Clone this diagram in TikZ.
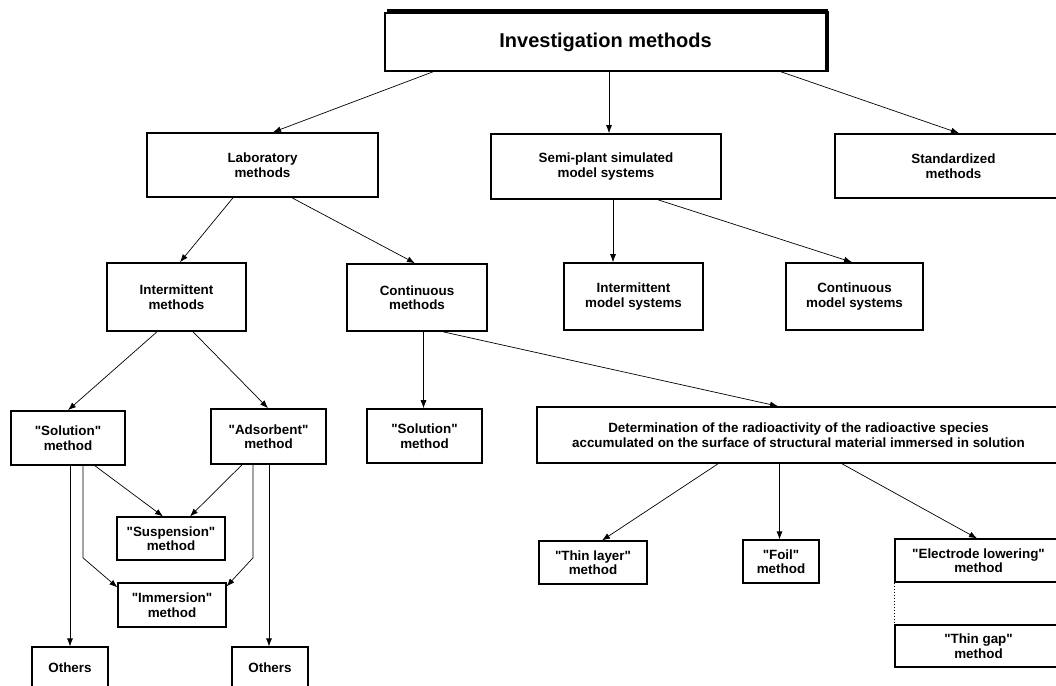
\documentclass[tikz,border=0pt]{standalone}
\usepackage{fontspec}
\setmainfont{Liberation Sans}
\usetikzlibrary{arrows.meta}
\newcommand{\qd}{\textquotedbl}
\begin{document}
\begin{tikzpicture}[x=1pt,y=-1pt,
  box/.style={draw, line width=1.6pt, align=center, inner sep=0pt,
    font=\bfseries\fontsize{13.4}{14.5}\selectfont},
  sbox/.style={box, line width=1.2pt},
  arr/.style={-{Latex[length=8pt,width=6pt]}, line width=0.7pt}]
\useasboundingbox (0,0) rectangle (1056,685);
\clip (0,0) rectangle (1056,685);
% level 0
\node[box, minimum width=441pt, minimum height=58pt,
  font=\bfseries\fontsize{20}{24}\selectfont] (top) at (605.5,42) {\raisebox{-3pt}{Investigation methods}};
\draw[line width=3.5pt] ([xshift=3pt,yshift=1.2pt]top.north west) -- ([xshift=1.5pt,yshift=1.2pt]top.north east);
\draw[line width=2.6pt] ([xshift=1pt,yshift=1pt]top.north east) -- ([xshift=1pt]top.south east);
% level 1
\node[box, minimum width=231pt, minimum height=64pt] (lab) at (262.5,165) {Laboratory\\methods};
\node[box, minimum width=230pt, minimum height=65pt] (semi) at (606,166.5) {Semi-plant simulated\\model systems};
\node[box, minimum width=237pt, minimum height=64pt] (std) at (953.5,166) {Standardized\\methods};
% level 2
\node[box, minimum width=139pt, minimum height=68pt] (intm) at (176.5,297) {Intermittent\\methods};
\node[box, minimum width=140pt, minimum height=67pt] (cont) at (417,297.5) {Continuous\\methods};
\node[box, minimum width=139pt, minimum height=67pt] (intmod) at (633.5,296.5) {Intermittent\\model systems};
\node[box, minimum width=137pt, minimum height=67pt] (contmod) at (854.5,296.5) {Continuous\\model systems};
% level 3
\node[box, minimum width=114pt, minimum height=54pt] (sol1) at (68,438) {\qd Solution\qd\\method};
\node[box, minimum width=115pt, minimum height=55pt] (ads) at (268.5,436.5) {\qd Adsorbent\qd\\method};
\node[box, minimum width=115pt, minimum height=54pt] (sol2) at (424.5,436) {\qd Solution\qd\\method};
\node[box, minimum width=523pt, minimum height=56pt] (det) at (798.5,435)
  {Determination of the radioactivity of the radioactive species\\accumulated on the surface of structural material immersed in solution};
% level 4
\node[sbox, minimum width=108pt, minimum height=43pt] (susp) at (171,538.5) {\qd Suspension\qd\\method};
\node[sbox, minimum width=108pt, minimum height=44pt] (imm) at (172,605) {\qd Immersion\qd\\method};
\node[sbox, minimum width=76pt, minimum height=42pt] (oth1) at (70,668) {Others};
\node[sbox, minimum width=76pt, minimum height=42pt] (oth2) at (270,668) {Others};
\node[sbox, minimum width=108pt, minimum height=43pt] (thin) at (593,562.5) {\qd Thin layer\qd\\method};
\node[sbox, minimum width=76pt, minimum height=43pt] (foil) at (781,561.5) {\qd Foil\qd\\method};
\node[sbox, minimum width=167pt, minimum height=43pt] (elec) at (978.5,560.5) {\qd Electrode lowering\qd\\method};
\node[sbox, minimum width=167pt, minimum height=42pt] (gap) at (978.5,646) {\qd Thin gap\qd\\method};
\draw[line width=1pt, dotted] (elec.south west) -- (gap.north west);
% connectors
\draw[arr] ([xshift=-172.5pt]top.south) -- ([xshift=10.5pt]lab.north);
\draw[arr] ([xshift=3.5pt]top.south) -- ([xshift=3pt]semi.north);
\draw[arr] ([xshift=175.5pt]top.south) -- ([xshift=5.5pt]std.north);
\draw[arr] ([xshift=-29.5pt]lab.south) -- ([xshift=3.5pt]intm.north);
\draw[arr] ([xshift=29.5pt]lab.south) -- ([xshift=-2pt]cont.north);
\draw[arr] ([xshift=7pt]semi.south) -- ([xshift=-20.5pt]intmod.north);
\draw[arr] ([xshift=52pt]semi.south) -- ([xshift=-2.5pt]contmod.north);
\draw[arr] ([xshift=-19.5pt]intm.south) -- (sol1.north);
\draw[arr] ([xshift=16.5pt]intm.south) -- ([xshift=-0.5pt]ads.north);
\draw[arr] ([xshift=6.5pt]cont.south) -- ([xshift=-1pt]sol2.north);
\draw[arr] ([xshift=26pt]cont.south) -- ([xshift=-20.5pt]det.north);
\draw[arr] ([xshift=27pt]sol1.south) -- ([xshift=-8pt]susp.north);
\draw[arr] ([xshift=-26.5pt]ads.south) -- ([xshift=19pt]susp.north);
\draw[arr] ([xshift=15pt]sol1.south) -- ++(0,92) -- ([yshift=-5pt]imm.north west);
\draw[arr] ([xshift=-15.5pt]ads.south) -- ++(0,93) -- ([yshift=-4pt]imm.north east);
\draw[arr] ([xshift=2pt]sol1.south) -- (oth1.north);
\draw[arr] ([xshift=0.5pt]ads.south) -- ([xshift=-1pt]oth2.north);
\draw[arr] ([xshift=-80.5pt]det.south) -- ([xshift=9pt]thin.north);
\draw[arr] ([xshift=-19pt]det.south) -- ([xshift=-1.5pt]foil.north);
\draw[arr] ([xshift=43.5pt]det.south) -- ([xshift=-1.5pt]elec.north);
\end{tikzpicture}
\end{document}
